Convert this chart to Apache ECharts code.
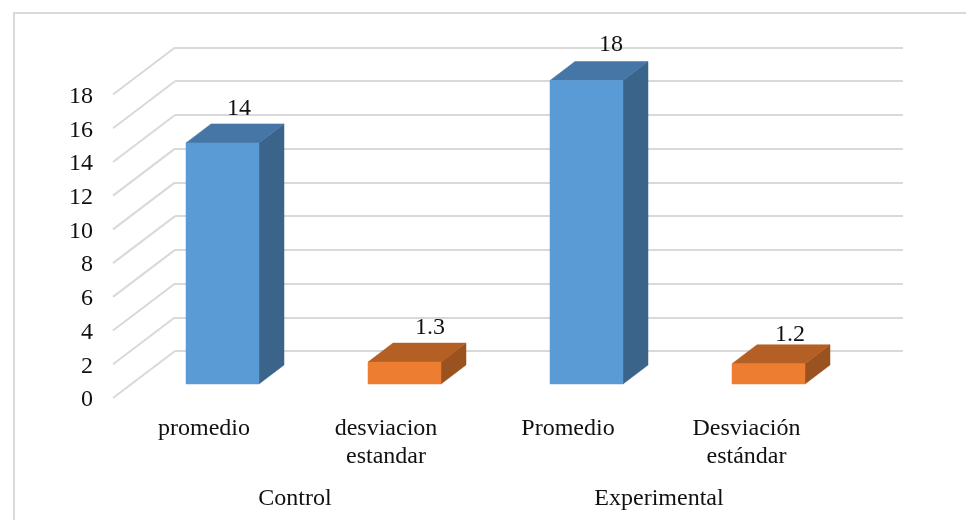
<!DOCTYPE html>
<html><head><meta charset="utf-8">
<style>html,body{margin:0;padding:0;background:#fff}#c{width:966px;height:520px}</style>
<script src="https://cdn.jsdelivr.net/npm/echarts@6/dist/echarts.min.js"></script>
</head><body><div id="c"></div>
<script>
const categories = ['promedio', 'desviacion\nestandar', 'Promedio', 'Desviación\nestándar'];
const groups = ['Control', 'Experimental'];
const values = [14.3, 1.3, 18, 1.2];
const valueLabels = ['14', '1.3', '18', '1.2'];
const yTicks = [0, 2, 4, 6, 8, 10, 12, 14, 16, 18];

const FONT = '"Liberation Serif","Times New Roman",serif';
const TEXT = '#111', GRID = '#d9d9d9';
const FACES = [
  { front: '#5b9bd5', top: '#4676a5', side: '#3a648a' },
  { front: '#ed7d31', top: '#b45f24', side: '#9a521e' }
];
const WALL_DX = -62, WALL_DY = 47;   // wall to front plane of the floor
const BAR_DX = -43.5, BAR_DY = 33;   // wall to front face of the bars
const BAR_W = 73, DEPTH_X = 25, DEPTH_Y = -19;
const NUDGE = [[4, -15], [13, -15], [12, -17], [9, -10]];

const chart = echarts.init(document.getElementById('c'), null, { renderer: 'canvas' });
chart.setOption({
  animation: false,
  backgroundColor: '#fff',
  graphic: [
    { type: 'line', silent: true, z: -1, shape: { x1: 14, y1: 13, x2: 966, y2: 13 }, style: { stroke: GRID, lineWidth: 2 } },
    { type: 'line', silent: true, z: -1, shape: { x1: 14, y1: 12, x2: 14, y2: 520 }, style: { stroke: GRID, lineWidth: 2 } }
  ],
  grid: [
    { left: 175, top: 47.5, width: 728, height: 303.5 },
    { left: 113, top: 96.5, width: 728, height: 303.5 }
  ],
  xAxis: [
    { type: 'category', gridIndex: 0, data: categories, axisLine: { show: false }, axisTick: { show: false }, axisLabel: { show: false } },
    { type: 'category', gridIndex: 1, data: categories, axisLine: { show: false }, axisTick: { show: false },
      axisLabel: { fontFamily: FONT, fontSize: 24, color: TEXT, margin: 14, lineHeight: 28.5, interval: 0,
        formatter: (v, i) => i === 3 ? v.split('\n').map(s => '{d|' + s + '}').join('\n') : v,
        rich: { d: { fontFamily: FONT, fontSize: 24, color: TEXT, lineHeight: 28.5, padding: [0, 7, 0, 0] } } } },
    { type: 'category', gridIndex: 1, position: 'bottom', offset: 87, data: groups, axisLine: { show: false }, axisTick: { show: false },
      axisLabel: { fontFamily: FONT, fontSize: 24, color: TEXT, margin: 0, interval: 0 } }
  ],
  yAxis: [
    { type: 'value', gridIndex: 0, min: 0, max: 18, interval: 2, axisLine: { show: false }, axisTick: { show: false }, axisLabel: { show: false },
      splitLine: { show: true, lineStyle: { color: GRID, width: 2 } } },
    { type: 'value', gridIndex: 1, min: 0, max: 18, interval: 2, axisLine: { show: false }, axisTick: { show: false }, splitLine: { show: false },
      axisLabel: { fontFamily: FONT, fontSize: 24, color: TEXT, margin: 20 } }
  ],
  series: [
    { type: 'custom', xAxisIndex: 0, yAxisIndex: 0, silent: true, z: 1, clip: false,
      data: yTicks.map(t => [0, t]),
      encode: { x: 0, y: 1 },
      renderItem(params, api) {
        const y = api.coord([0, api.value(1)])[1];
        const x0 = params.coordSys.x;
        return { type: 'line', shape: { x1: x0, y1: y, x2: x0 + WALL_DX, y2: y + WALL_DY },
          style: { stroke: GRID, lineWidth: 2, fill: null } };
      } },
    { type: 'custom', xAxisIndex: 0, yAxisIndex: 0, silent: true, z: 3, clip: false,
      data: values.map((v, i) => [i, v]),
      encode: { x: 0, y: 1 },
      renderItem(params, api) {
        const i = params.dataIndex;
        const top = api.coord([api.value(0), api.value(1)]);
        const base = api.coord([api.value(0), 0]);
        const c = FACES[i % 2];
        const l = top[0] + BAR_DX - BAR_W / 2, r = l + BAR_W;
        const t = top[1] + BAR_DY, b = base[1] + BAR_DY;
        const poly = (pts, fill) => ({ type: 'polygon', shape: { points: pts }, style: { fill, stroke: fill, lineWidth: 0.5 } });
        return { type: 'group', children: [
          poly([[r, t], [r + DEPTH_X, t + DEPTH_Y], [r + DEPTH_X, b + DEPTH_Y], [r, b]], c.side),
          poly([[l, t], [l + DEPTH_X, t + DEPTH_Y], [r + DEPTH_X, t + DEPTH_Y], [r, t]], c.top),
          poly([[l, t], [r, t], [r, b], [l, b]], c.front),
          { type: 'text', style: { text: valueLabels[i], x: (l + r) / 2 + DEPTH_X / 2 + NUDGE[i][0], y: t + DEPTH_Y + NUDGE[i][1],
            font: '24px ' + FONT, fill: TEXT, align: 'center', verticalAlign: 'middle' } }
        ] };
      } }
  ]
});
</script></body></html>
